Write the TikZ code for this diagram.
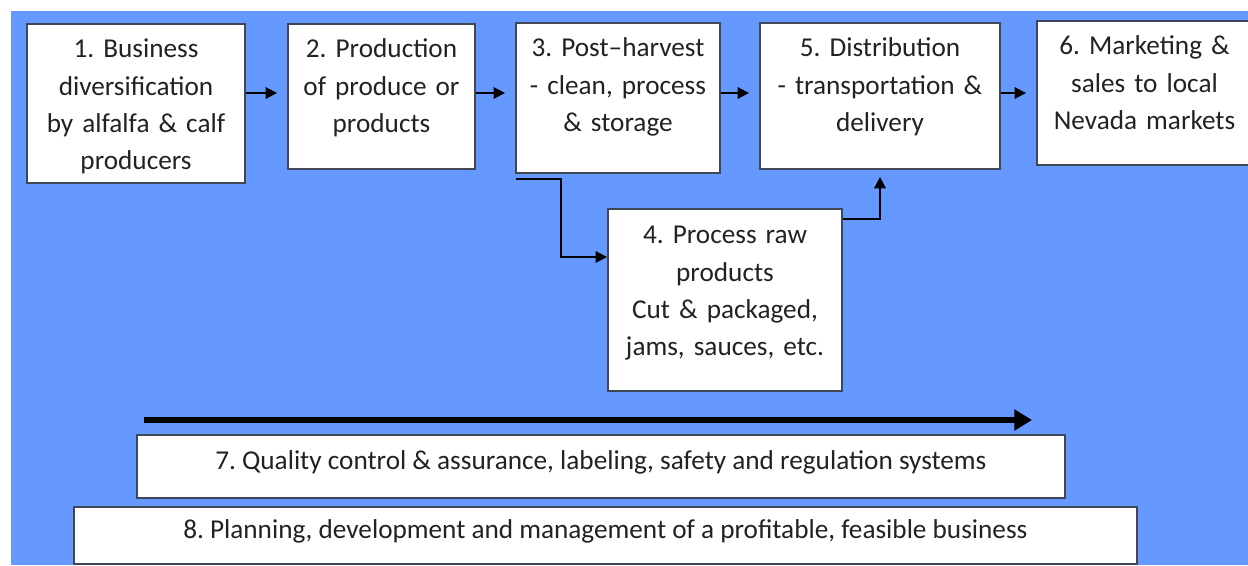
\documentclass[tikz,border=0pt]{standalone}
\usepackage{fontspec}
\setmainfont{Carlito}
\usetikzlibrary{arrows.meta}
\definecolor{backblue}{HTML}{6699FF}
\definecolor{boxedge}{HTML}{3F4656}
\definecolor{ink}{HTML}{222222}
\frenchspacing
\tikzset{
  stage/.style={draw=boxedge, line width=1.1pt, fill=white, align=center, anchor=north,
    inner sep=0pt, text=ink, font=\fontsize{15.5}{21.1}\selectfont, text height=0.68cm},
  band/.style={draw=boxedge, line width=1.1pt, fill=white, anchor=north west,
    inner sep=0pt, text=ink, font=\fontsize{15.5}{18}\selectfont,
    text height=11pt, text depth=7pt},
  flow/.style={-{Triangle[length=6.5pt,width=6.5pt]}, line width=1.1pt, black}
}
\begin{document}
\begin{tikzpicture}[x=0.02cm, y=-0.02cm]
\useasboundingbox (0,0) rectangle (1248,565);
% blue backdrop
\fill[backblue] (11,11) rectangle (1248,565);
% top row of stages
\node[stage, text width=4.36cm, text depth=2.5cm] (diversify) at (136,23)
  {1. Business\\ diversification\\ by alfalfa \& calf\\ producers};
\node[stage, text width=3.74cm, text depth=2.22cm] (produce) at (381.5,23)
  {2. Production\\ of produce or\\ products};
\node[stage, text width=4.08cm, text depth=2.32cm] (postharvest) at (618,22)
  {3. Post--harvest\\ - clean, process\\ \& storage};
\node[stage, text width=4.8cm, text depth=2.24cm] (distrib) at (880,22)
  {5. Distribution\\ - transportation \&\\ delivery};
\node[stage, text width=4.3cm, text depth=2.2cm] (market) at (1144.5,20)
  {6. Marketing \&\\ sales to local\\ Nevada markets};
% side branch
\node[stage, text width=4.68cm, text height=0.7cm, text depth=2.94cm] (rawproc) at (725,208)
  {4. Process raw\\ products\\ Cut \& packaged,\\ jams, sauces, etc.};
% bottom bands
\node[band, minimum width=18.56cm, minimum height=1.26cm] (quality) at (136,434)
  {7. Quality control \& assurance, labeling, safety and regulation systems};
\node[band, minimum width=21.26cm, minimum height=1.14cm] (plan) at (73,506)
  {8. Planning, development and management of a profitable, feasible business};
% arrows along the top row
\coordinate (rail) at (0,93);
\foreach \a/\b in {diversify/produce, produce/postharvest, postharvest/distrib, distrib/market}
  \draw[flow, shorten >=0.2cm] (\a.east |- rail) -- (\b.west |- rail);
% branch out through step 4 and back to step 5
\coordinate (tap) at (516,179);
\draw[flow] (tap) -- ++(45,0) |- ([yshift=-0.98cm]rawproc.north west);
\draw[flow, shorten >=0.14cm] ([yshift=-0.22cm]rawproc.north east) -| (distrib.south);
% long arrow over the bands
\coordinate (trackL) at (144,420);
\coordinate (trackR) at (1032,420);
\draw[-{Triangle[length=10pt,width=11.5pt]}, line width=3.4pt] (trackL) -- (trackR);
\end{tikzpicture}
\end{document}
